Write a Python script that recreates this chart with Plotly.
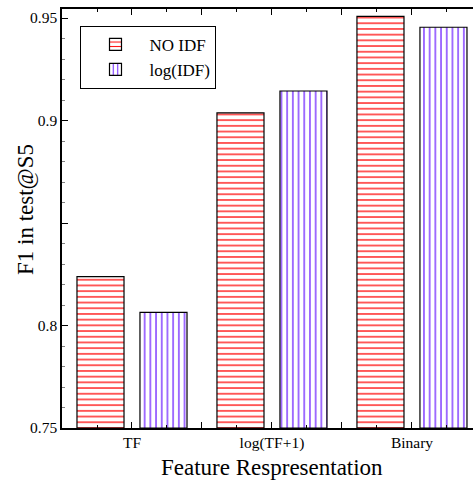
import plotly.graph_objects as go

categories = ["TF", "log(TF+1)", "Binary"]
no_idf = [0.8238, 0.9037, 0.9508]
log_idf = [0.8064, 0.9144, 0.9455]
ytick_vals = [0.75, 0.8, 0.85, 0.9, 0.95]
ytick_text = ["0.75", "0.8", "", "0.9", "0.95"]
BASE = 0.75

xpos = list(range(len(categories)))
FONT = "Liberation Serif"

fig = go.Figure()
fig.add_trace(go.Bar(
    x=xpos, y=[v - BASE for v in no_idf], name="NO IDF", base=BASE,
    width=0.336, offset=-0.393,
    marker=dict(color="white", line=dict(color="black", width=1.2),
                pattern=dict(shape="-", fgcolor="#ff0000", bgcolor="white",
                             size=5.7, solidity=0.22, fillmode="replace")),
))
fig.add_trace(go.Bar(
    x=xpos, y=[v - BASE for v in log_idf], name="log(IDF)", base=BASE,
    width=0.336, offset=0.057,
    marker=dict(color="white", line=dict(color="black", width=1.2),
                pattern=dict(shape="|", fgcolor="#6a1bff", bgcolor="white",
                             size=5.7, solidity=0.22, fillmode="replace")),
))

fig.update_layout(
    width=473, height=481,
    margin=dict(l=62, r=0, t=9, b=53),
    paper_bgcolor="white", plot_bgcolor="white",
    barmode="overlay",
    font=dict(family=FONT, color="black"),
    showlegend=True,
    legend=dict(x=0.045, y=0.96, xanchor="left", yanchor="top",
                bordercolor="black", borderwidth=1, bgcolor="white",
                font=dict(family=FONT, size=17), itemwidth=58,
                entrywidth=140, entrywidthmode="pixels",
                tracegroupgap=0),
    xaxis=dict(
        range=[-0.5, 2.436], showgrid=False, zeroline=False,
        tickmode="array", tickvals=[0, 0.5, 1, 1.5, 2],
        ticktext=["TF", "", "log(TF+1)", "", "Binary"],
        ticks="inside", ticklen=6, tickwidth=1.2, tickcolor="black",
        showline=True, linecolor="black", linewidth=1.5, mirror="ticks",
        minor=dict(dtick=0.25, tick0=0, ticks="inside", ticklen=3,
                   tickwidth=1, tickcolor="black"),
        tickfont=dict(family=FONT, size=15.5),
    ),
    yaxis=dict(
        range=[0.75, 0.9544], showgrid=False, zeroline=False,
        tickmode="array", tickvals=ytick_vals, ticktext=ytick_text,
        ticks="inside", ticklen=6, tickwidth=1.2, tickcolor="black",
        showline=True, linecolor="black", linewidth=1.5,
        minor=dict(dtick=0.01, tick0=0.75, ticks="inside", ticklen=3,
                   tickwidth=1, tickcolor="gray"),
        tickfont=dict(family=FONT, size=15.5),
    ),
    annotations=[
        dict(text="Feature Respresentation", xref="paper", yref="paper",
             x=(272 - 62) / 411, y=-(467 - 428) / 419, xanchor="center", yanchor="middle",
             showarrow=False, font=dict(family=FONT, size=23)),
        dict(text="F1 in test@S5", xref="paper", yref="paper",
             x=-(62 - 25) / 411, y=(428 - 210) / 419, xanchor="center", yanchor="middle",
             textangle=-90, showarrow=False, font=dict(family=FONT, size=23)),
    ],
)

fig.write_html("out.html")
